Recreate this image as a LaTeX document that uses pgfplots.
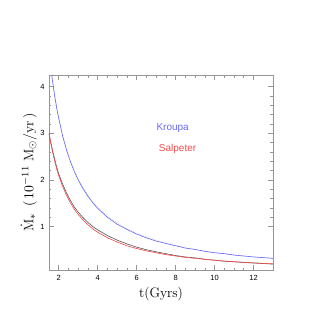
\documentclass[border=0pt]{standalone}
\usepackage{pgfplots}
\pgfplotsset{compat=1.18}
\usepackage{fontspec}
\newfontfamily\hv{Liberation Sans}
\definecolor{kblue}{RGB}{105,105,250}
\definecolor{sred}{RGB}{245,75,75}
\definecolor{framegray}{RGB}{150,150,150}
\begin{document}
\begin{tikzpicture}
\useasboundingbox (-39.2pt,-39.2pt) rectangle (216pt,216pt);
\begin{axis}[
  at={(0,0)}, anchor=south west,
  scale only axis, width=179.2pt, height=156pt,
  xmin=1.5, xmax=13, ymin=0.07, ymax=4.25,
  xtick={2,4,6,8,10,12}, minor x tick num=3,
  ytick={1,2,3,4}, minor y tick num=4,
  tick align=inside, xtick pos=both, ytick pos=both,
  major tick length=3.7pt, minor tick length=2pt,
  axis line style={framegray, line width=0.6pt},
  tick style={framegray, line width=0.5pt},
  /pgf/number format/assume math mode=true,
  ticklabel style={font=\fontsize{6}{7}\selectfont\hv, text=black},
  xticklabel style={yshift=-1pt},
  xlabel={t(Gyrs)},
  ylabel={$\dot{\mathrm{M}}_*\ \,(\,10^{-11}\ \mathrm{M}_\odot/\mathrm{yr}\,)$},
  label style={font=\fontsize{11}{13}\selectfont},
  xlabel style={yshift=2pt},
  ylabel style={yshift=-4pt},
  clip=true,
]
\addplot[gray!45, densely dotted, line width=0.5pt] coordinates {
(1.5,4.78) (1.6,4.41) (1.7,4.09) (1.8,3.81) (1.9,3.56) (2.0,3.35) (2.2,2.97) (2.4,2.67) (2.6,2.42) (2.8,2.21) (3.0,2.03) (3.25,1.84) (3.5,1.68) (3.75,1.54) (4,1.42) (4.5,1.23) (5,1.08) (5.5,0.96) (6,0.86) (6.5,0.78) (7,0.71) (7.5,0.65) (8,0.60) (8.5,0.55) (9,0.515) (9.5,0.475) (10,0.445) (10.5,0.42) (11,0.395) (11.5,0.372) (12,0.352) (12.5,0.335) (13,0.32)
};
\addplot[kblue, line width=0.5pt] coordinates {
(1.5,4.75) (1.6,4.38) (1.7,4.06) (1.8,3.78) (1.9,3.53) (2.0,3.32) (2.2,2.94) (2.4,2.64) (2.6,2.39) (2.8,2.18) (3.0,2.00) (3.25,1.81) (3.5,1.65) (3.75,1.51) (4,1.39) (4.5,1.20) (5,1.05) (5.5,0.94) (6,0.84) (6.5,0.76) (7,0.69) (7.5,0.64) (8,0.59) (8.5,0.54) (9,0.51) (9.5,0.47) (10,0.44) (10.5,0.42) (11,0.39) (11.5,0.37) (12,0.35) (12.5,0.335) (13,0.32)
};
\addplot[black!65, line width=0.5pt] coordinates {
(1.5,3.00) (1.6,2.79) (1.7,2.60) (1.8,2.43) (1.9,2.27) (2.0,2.13) (2.2,1.91) (2.4,1.72) (2.6,1.56) (2.8,1.42) (3.0,1.31) (3.25,1.19) (3.5,1.09) (3.75,1.00) (4,0.93) (4.5,0.81) (5,0.71) (5.5,0.63) (6,0.56) (6.5,0.505) (7,0.46) (7.5,0.42) (8,0.38) (8.5,0.35) (9,0.33) (9.5,0.30) (10,0.28) (10.5,0.26) (11,0.245) (11.5,0.232) (12,0.220) (12.5,0.208) (13,0.197)
};
\addplot[sred, line width=0.5pt] coordinates {
(1.5,3.00) (1.6,2.77) (1.7,2.57) (1.8,2.39) (1.9,2.23) (2.0,2.09) (2.2,1.86) (2.4,1.67) (2.6,1.51) (2.8,1.37) (3.0,1.26) (3.25,1.14) (3.5,1.04) (3.75,0.95) (4,0.88) (4.5,0.76) (5,0.67) (5.5,0.59) (6,0.53) (6.5,0.48) (7,0.44) (7.5,0.40) (8,0.37) (8.5,0.34) (9,0.32) (9.5,0.30) (10,0.28) (10.5,0.26) (11,0.25) (11.5,0.235) (12,0.223) (12.5,0.212) (13,0.202)
};
\node[font=\fontsize{8}{9}\selectfont\hv, text=kblue] at (axis cs:7.85,3.12) {Kroupa};
\node[font=\fontsize{8}{9}\selectfont\hv, text=sred] at (axis cs:8.1,2.66) {Salpeter};
\end{axis}
\end{tikzpicture}
\end{document}
